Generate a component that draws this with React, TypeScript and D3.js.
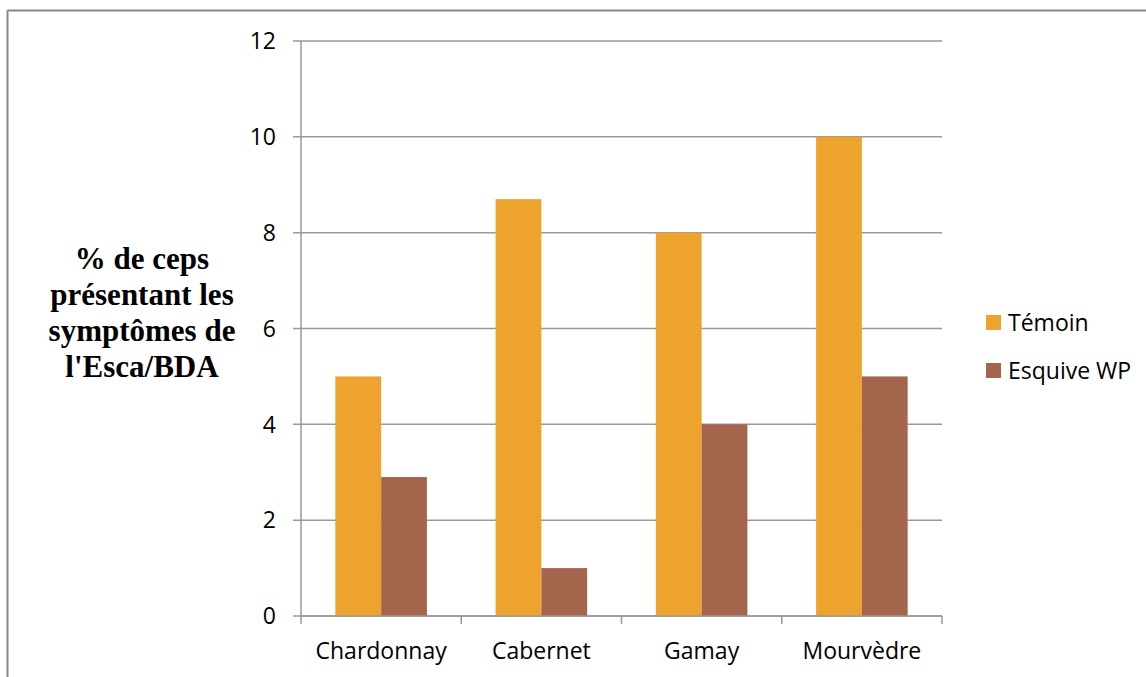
import React from "react";
import * as d3 from "d3";

const categories = ["Chardonnay", "Cabernet", "Gamay", "Mourvèdre"];
const seriesNames = ["Témoin", "Esquive WP"];
const temoin = [5, 8.7, 8, 10];
const esquive = [2.9, 1, 4, 5];
const yTicks = [0, 2, 4, 6, 8, 10, 12];
const colors = ["#EEA32F", "#A5654D"];
const yTitleLines = ["% de ceps", "présentant les", "symptômes de", "l'Esca/BDA"];

const W = 1146, H = 677;
const left = 301, right = 942, top = 41, bottom = 616;
const font = "'Open Sans', sans-serif";
const fs = 23;

export default function App() {
  const x = d3.scaleBand<string>().domain(categories).range([left, right]);
  const y = d3.scaleLinear().domain([0, 12]).range([bottom, top]);
  const bw = x.bandwidth();
  const barW = bw / 3.5;
  const gap = (bw - 2 * barW) / 2;
  const series = [temoin, esquive];
  return (
    <svg width={W} height={H} style={{ position: "absolute", left: 0, top: 0, background: "#fff" }}>
      <rect x={0} y={0} width={W} height={H} fill="#fff" />
      <line x1={7.5} x2={W} y1={10.5} y2={10.5} stroke="#888" strokeWidth={2} />
      <line x1={7.5} x2={7.5} y1={10} y2={H} stroke="#888" strokeWidth={2} />
      {yTicks.map((t) => (
        <g key={t}>
          <line x1={left - 8} x2={right} y1={y(t)} y2={y(t)} stroke="#999" strokeWidth={1.5} />
          <text x={left - 25} y={y(t)} dy="0.36em" textAnchor="end" fontFamily={font} fontSize={fs} fill="#000">
            {t}
          </text>
        </g>
      ))}
      <line x1={left} x2={left} y1={top} y2={bottom} stroke="#999" strokeWidth={1.5} />
      {series.map((vals, si) =>
        categories.map((c, i) => (
          <rect
            key={si + c}
            x={(x(c) as number) + gap + si * barW}
            y={y(vals[i])}
            width={barW}
            height={bottom - y(vals[i])}
            fill={colors[si]}
          />
        ))
      )}
      <line x1={left} x2={right} y1={bottom} y2={bottom} stroke="#999" strokeWidth={1.5} />
      {[...categories.map((c) => x(c) as number), right].map((p, i) => (
        <line key={i} x1={p} x2={p} y1={bottom} y2={bottom + 8} stroke="#999" strokeWidth={1.5} />
      ))}
      {categories.map((c) => (
        <text key={c} x={(x(c) as number) + bw / 2} y={651} dy="0.36em" textAnchor="middle" fontFamily={font} fontSize={fs} fill="#000">
          {c}
        </text>
      ))}
      {yTitleLines.map((l, i) => (
        <text key={l} x={142} y={269 + i * 36} textAnchor="middle" fontFamily="'Liberation Serif', 'Times New Roman', serif" fontWeight="bold" fontSize={31} fill="#000">
          {l}
        </text>
      ))}
      {seriesNames.map((n, i) => (
        <g key={n}>
          <rect x={986} y={315 + i * 48} width={15} height={15} fill={colors[i]} />
          <text x={1008} y={323 + i * 48} dy="0.36em" fontFamily={font} fontSize={fs} fill="#000">
            {n}
          </text>
        </g>
      ))}
    </svg>
  );
}
